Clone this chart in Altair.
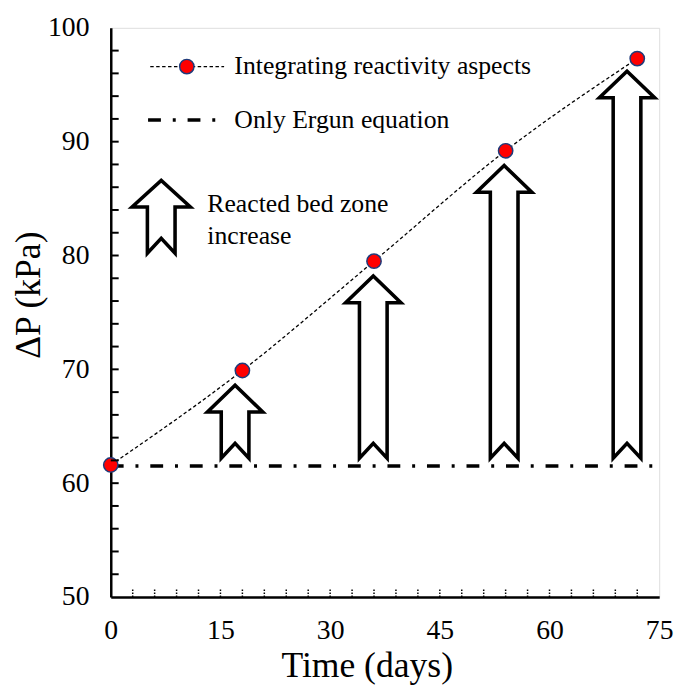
import altair as alt
import pandas as pd

# ---------------- data ----------------
time_days = [0, 18, 36, 54, 72]
dp_reactivity = [61.6, 69.9, 79.5, 89.2, 97.3]
ergun_time = [0, 75]
ergun_dp = 61.5
arrow_time = [17.0, 35.9, 53.8, 70.6]
arrow_top = [68.6, 78.2, 87.9, 96.2]
arrow_base = 62.2
x_tick_values = [0, 15, 30, 45, 60, 75]
y_tick_values = [50, 60, 70, 80, 90, 100]
series_labels = ["Integrating reactivity aspects", "Only Ergun equation"]
note_lines = ["Reacted bed zone", "increase"]

# ---------------- layout constants ----------------
W, H = 555, 576
XMIN, XMAX, YMIN, YMAX = 0, 75, 50, 100
px_x = W / (XMAX - XMIN)
px_y = H / (YMAX - YMIN)
FONT = "Liberation Serif, Times New Roman, serif"

xs = alt.Scale(domain=[XMIN, XMAX], nice=False, zero=False)
ys = alt.Scale(domain=[YMIN, YMAX], nice=False, zero=False)


def X(**kw):
    return alt.X("x:Q", scale=xs, **kw)


def Y(**kw):
    return alt.Y("y:Q", scale=ys, **kw)


def arrow_rows(aid, cx, base, tip, hw=28, sw=14, hh=27, nt=15):
    HW, SW = hw / px_x, sw / px_x
    HH, NT = hh / px_y, nt / px_y
    mid = (base + tip - HH) / 2
    pts = [(cx + SW, mid), (cx + SW, tip - HH), (cx + HW, tip - HH), (cx, tip),
           (cx - HW, tip - HH), (cx - SW, tip - HH), (cx - SW, base),
           (cx, base + NT), (cx + SW, base), (cx + SW, mid)]
    return [{"id": aid, "o": i, "x": px, "y": py} for i, (px, py) in enumerate(pts)]


rows = []
for i, (cx, tp) in enumerate(zip(arrow_time, arrow_top)):
    rows += arrow_rows(i, cx, arrow_base, tp)
# legend arrow
rows += arrow_rows(99, 6.9, 80.2, 86.6, hw=29.5)
arrows_df = pd.DataFrame(rows)

react_df = pd.DataFrame({"x": time_days, "y": dp_reactivity})
ergun_df = pd.DataFrame({"x": ergun_time, "y": [ergun_dp] * len(ergun_time)})

# ---------------- axes ----------------
x_axis = alt.Axis(values=x_tick_values, ticks=False, grid=False, domainColor="black",
                  domainWidth=2.5, labelFont=FONT, labelFontSize=28, labelColor="black",
                  labelPadding=20, labelFlush=False, title="Time  (days)", titleFont=FONT,
                  titleFontSize=36, titleFontWeight="normal", titleColor="black",
                  titleX=259, titleY=80, titleBaseline="alphabetic", titleAlign="center")
y_axis = alt.Axis(values=y_tick_values, ticks=False, grid=False, domainColor="black",
                  domainWidth=2.5, labelFont=FONT, labelFontSize=28, labelColor="black",
                  labelPadding=22, labelFlush=False, title="ΔP (kPa)", titleFont=FONT,
                  titleFontSize=36, titleFontWeight="normal", titleColor="black",
                  titleX=-72, titleY=270, titleAngle=270, titleBaseline="alphabetic",
                  titleAlign="center")

ergun = alt.Chart(ergun_df).mark_line(color="black", strokeWidth=3.5, strokeDash=[13, 12, 3, 12],
                                      strokeCap="butt").encode(x=X(axis=x_axis), y=Y(axis=y_axis))

react_line = alt.Chart(react_df).mark_line(color="black", strokeWidth=1.3, strokeDash=[3.5, 2.5],
                                           interpolate="monotone").encode(x=X(), y=Y())

arrows = alt.Chart(arrows_df).mark_line(color="black", strokeWidth=3.6, strokeJoin="miter",
                                        strokeCap="butt").encode(
    x=X(), y=Y(), order="o:Q", detail="id:N")

points = alt.Chart(react_df).mark_circle(color="#FF0000", stroke="#1F3A7A", strokeWidth=1.5,
                                         size=210, opacity=1).encode(x=X(), y=Y())

# ---------------- legend ----------------
leg1_df = pd.DataFrame({"x": [5.4, 15.5], "y": [96.6, 96.6]})
leg2_df = pd.DataFrame({"x": [5.1, 14.4], "y": [91.9, 91.9]})
leg_pt_df = pd.DataFrame({"x": [10.4], "y": [96.6]})
leg1 = alt.Chart(leg1_df).mark_line(color="black", strokeWidth=1.3, strokeDash=[3.5, 2.5]).encode(x=X(), y=Y())
leg2 = alt.Chart(leg2_df).mark_line(color="black", strokeWidth=3.5, strokeDash=[13, 12, 3, 12],
                                    strokeCap="butt").encode(x=X(), y=Y())
leg_pt = alt.Chart(leg_pt_df).mark_circle(color="#FF0000", stroke="#1F3A7A", strokeWidth=1.5,
                                          size=210, opacity=1).encode(x=X(), y=Y())

leg_text_df = pd.DataFrame({"x": [16.9, 16.9], "y": [96.6, 91.9], "t": series_labels})
leg_text = alt.Chart(leg_text_df).mark_text(font=FONT, fontSize=26, align="left",
                                            baseline="middle", color="black").encode(
    x=X(), y=Y(), text="t:N")

note_df = pd.DataFrame({"x": [13.2, 13.2], "y": [83.8, 81.0], "t": note_lines})
note = alt.Chart(note_df).mark_text(font=FONT, fontSize=26, align="left",
                                    baseline="alphabetic", color="black").encode(
    x=X(), y=Y(), text="t:N")

# ---------------- inner tick marks ----------------
ytk_df = pd.DataFrame({"y": list(range(52, 100, 2))})
ytk_df["x"] = XMIN
ytk_df["x2"] = XMIN + 8 / px_x
ytk = alt.Chart(ytk_df).mark_rule(color="black", strokeWidth=2).encode(
    x=X(), x2="x2:Q", y=Y())

xtk_df = pd.DataFrame({"x": list(range(3, 75, 3))})
xtk_df["y"] = YMIN
xtk_df["y2"] = YMIN + 8 / px_y
xtk = alt.Chart(xtk_df).mark_rule(color="black", strokeWidth=1.5, strokeDash=[1.5, 1.5]).encode(
    x=X(), y=Y(), y2="y2:Q")

chart = alt.layer(ergun, react_line, arrows, points, leg1, leg2, leg_pt, leg_text, note,
                  ytk, xtk).properties(
    width=W, height=H, autosize="none",
    padding={"left": 104, "top": 16, "right": 16, "bottom": 88},
).configure_view(stroke="#404040", strokeWidth=1).configure(background="white")

chart.save("out.html", embed_options={"renderer": "svg", "actions": False})
